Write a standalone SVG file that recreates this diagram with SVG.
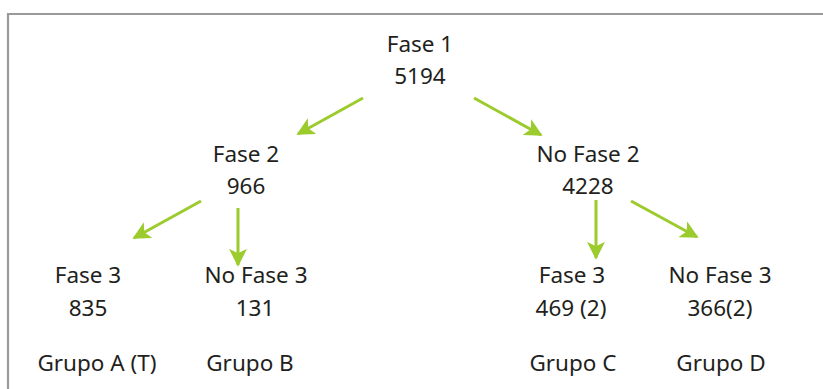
<svg xmlns="http://www.w3.org/2000/svg" width="823" height="389" viewBox="0 0 823 389">
<style>
text{font-family:"Noto Sans","Open Sans",sans-serif;font-size:22.5px;fill:#231f20;text-anchor:middle}
.c line{stroke:#9ccb2e;stroke-width:3;marker-end:url(#ah)}
.frame{fill:none;stroke:#9a9a9c;stroke-width:2.2}
</style>
<defs>
<marker id="ah" viewBox="0 0 10 10" refX="9" refY="5" markerWidth="6" markerHeight="6" markerUnits="strokeWidth" orient="auto">
<path d="M0,0 L10,5 L0,10 L2.5,5 z" fill="#9ccb2e"/>
</marker>
</defs>
<path class="frame" d="M8,389 V14 H823"/>
<g class="c">
<line x1="363" y1="98" x2="298" y2="134"/>
<line x1="474" y1="98" x2="541" y2="135"/>
<line x1="201" y1="201" x2="134" y2="238"/>
<line x1="238" y1="208" x2="238" y2="265"/>
<line x1="596" y1="200" x2="596" y2="258"/>
<line x1="631" y1="201" x2="697" y2="237"/>
</g>
<g id="n1"><text x="420" y="52">Fase 1</text><text x="420" y="84">5194</text></g>
<g id="n2"><text x="246" y="162">Fase 2</text><text x="246" y="194">966</text></g>
<g id="n3"><text x="588" y="162">No Fase 2</text><text x="588" y="194">4228</text></g>
<g id="n4"><text x="88" y="283">Fase 3</text><text x="88" y="316">835</text></g>
<g id="n5"><text x="256" y="283">No Fase 3</text><text x="255" y="316">131</text></g>
<g id="n6"><text x="572" y="283">Fase 3</text><text x="571" y="316">469 (2)</text></g>
<g id="n7"><text x="720" y="283">No Fase 3</text><text x="720" y="316">366(2)</text></g>
<g id="g1"><text x="97" y="371">Grupo A (T)</text></g>
<g id="g2"><text x="250" y="371">Grupo B</text></g>
<g id="g3"><text x="573" y="371">Grupo C</text></g>
<g id="g4"><text x="721" y="371">Grupo D</text></g>
</svg>
